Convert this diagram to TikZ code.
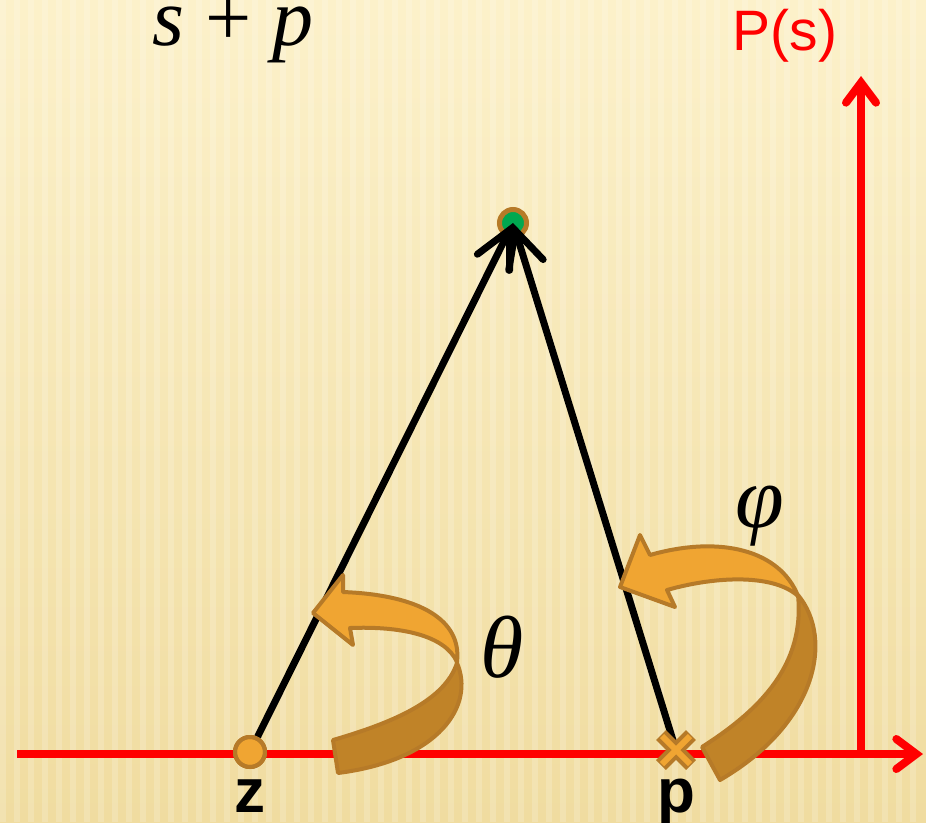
\documentclass[tikz,border=0pt]{standalone}
\usepackage{fontspec}
\setmainfont{Liberation Serif}
\newfontfamily\arialfont{Liberation Sans}
\usetikzlibrary{arrows.meta}

\definecolor{bgtop}{RGB}{252,241,202}
\definecolor{bgbot}{RGB}{240,220,160}
\definecolor{axisred}{RGB}{255,0,0}
\definecolor{ringbrown}{RGB}{182,122,40}
\definecolor{lightorange}{RGB}{240,165,50}
\definecolor{darkorange}{RGB}{192,131,40}
\definecolor{dotgreen}{RGB}{0,168,80}

\tikzset{
  axis/.style={axisred, line width=8pt, -{Straight Barb[length=20pt, width=30pt, line cap=round]}},
  vec/.style={black, line width=7pt, -{Straight Barb[length=36pt, width=36pt, line cap=round]}},
  zero/.style={circle, fill=lightorange, draw=ringbrown, line width=4pt, inner sep=0pt, minimum size=30pt},
  point/.style={circle, fill=dotgreen, draw=ringbrown, line width=5pt, inner sep=0pt, minimum size=27pt},
  bandlight/.style={fill=lightorange, draw=ringbrown, line width=4pt, line join=round},
  banddark/.style={fill=darkorange, draw=ringbrown, line width=4pt, line join=round},
  lbl/.style={font=\arialfont\bfseries\fontsize{62}{62}\selectfont, inner sep=0pt, anchor=base},
  greek/.style={font=\itshape\fontsize{88}{88}\selectfont, inner sep=0pt}
}

\begin{document}
\begin{tikzpicture}[x=1pt, y=-1pt]
    % 背景
    \shade[top color=bgtop, bottom color=bgbot] (0,0) rectangle (926,822);
    \foreach \i in {0,14,...,920}
      \fill[white, opacity=0.18] (\i,0) rectangle ++(6,822);
    \useasboundingbox (0,0) rectangle (926,822);

    % 坐标轴
    \coordinate (xstart) at (17,754);
    \coordinate (xend) at (923,754);
    \coordinate (o) at (861,754);
    \coordinate (yend) at (861,76);
    \draw[axis] (xstart) -- (xend);
    \draw[axis] (o) -- (yend);
    \node[axisred, font=\arialfont\fontsize{57}{57}\selectfont, inner sep=0pt] (ps) at (785,36) {P(s)};

    % 标题
    \node[font=\fontsize{82}{82}\selectfont, inner sep=0pt, anchor=base] (sp) at (233,45) {\textit{s} + \textit{p}};

    % 点 s
    \node[point] (s) at (513,223) {};

    % 零点与极点
    \node[zero] (z) at (250,752) {};
    \coordinate (p) at (676,750);
    \draw[vec] (z) -- (s.center);
    \draw[vec] (p) -- (s.center);
    \fill[zero] (z.center) circle (15pt);
    \draw[ringbrown, line width=4pt] (z.center) circle (15pt);
    \draw[ringbrown, line width=14pt] (p) ++(-15,-15) -- ++(30,30) (p) ++(-15,15) -- ++(30,-30);
    \draw[lightorange, line width=6pt] (p) ++(-14,-14) -- ++(28,28) (p) ++(-14,14) -- ++(28,-28);

    \node[lbl] (zl) at (250,812) {z};
    \node[lbl] (pl) at (676,812) {p};

    % 角 theta
    \draw[banddark] (333,740) .. controls (395,722) and (445,700) .. (457,663)
      .. controls (475,705) and (440,760) .. (338,773) -- cycle;
    \draw[bandlight] (457,662) .. controls (462,620) and (420,595) .. (343,592)
      -- (343,575) -- (313,613) -- (353,645) -- (350,628)
      .. controls (400,626) and (445,635) .. cycle;
    \node[greek] (th) at (502,647) {θ};

    % 角 phi
    \draw[banddark] (702,747) .. controls (760,710) and (805,665) .. (798,595)
      .. controls (835,640) and (815,725) .. (720,780) -- cycle;
    \draw[bandlight] (798,596) .. controls (780,550) and (720,535) .. (650,555)
      -- (640,535) -- (620,587) -- (675,607) -- (667,590)
      .. controls (720,575) and (775,575) .. cycle;
    \node[greek] (ph) at (760,516) {φ};
\end{tikzpicture}
\end{document}
